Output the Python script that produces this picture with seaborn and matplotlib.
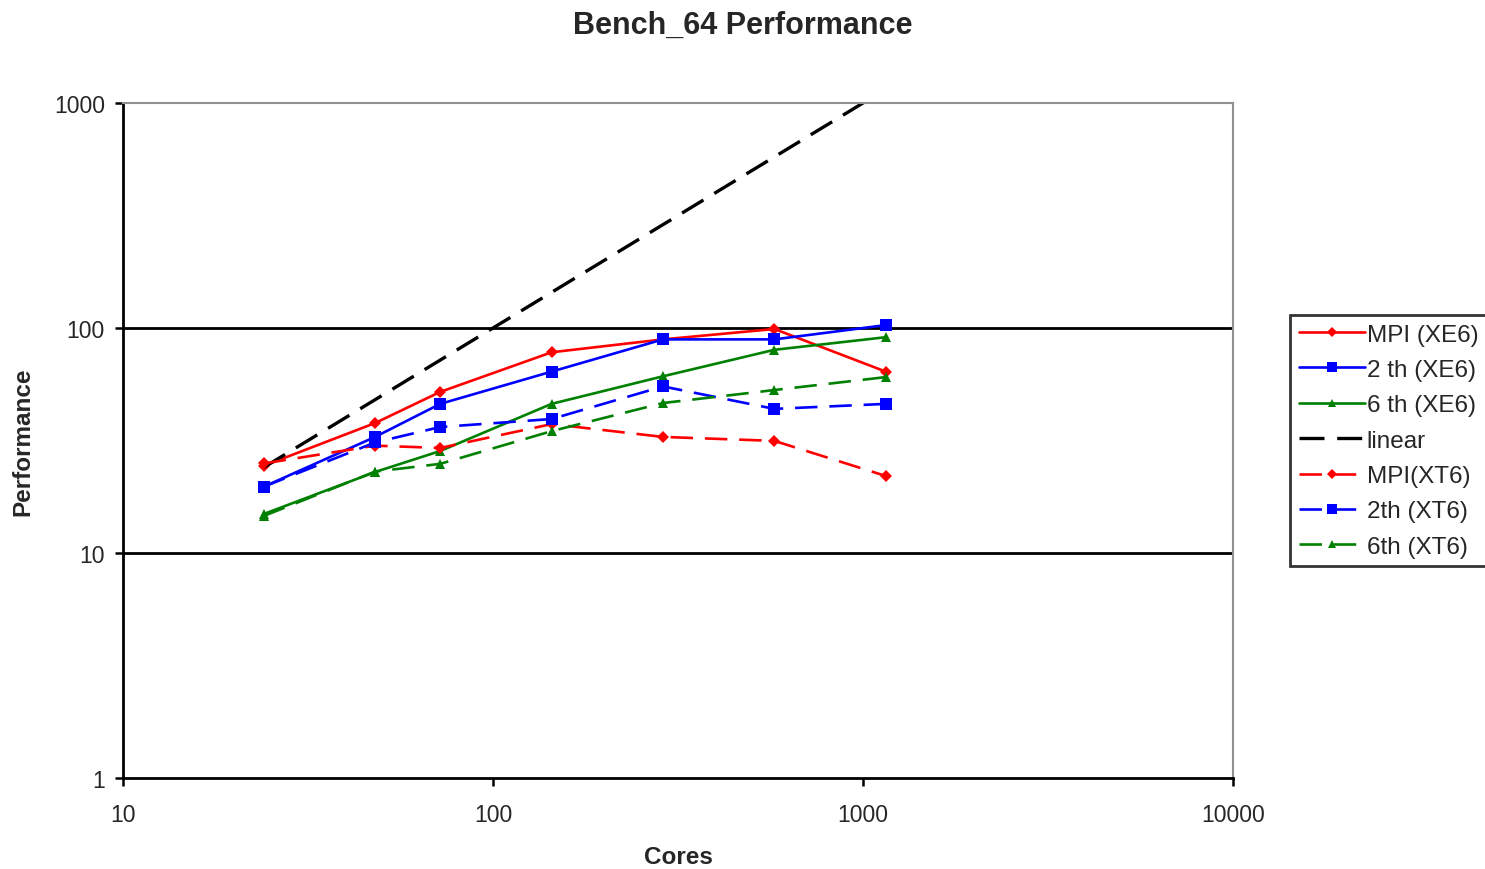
import numpy as np
import pandas as pd
import matplotlib
matplotlib.use("Agg")
import matplotlib.pyplot as plt
import seaborn as sns

cores = [24, 48, 72, 144, 288, 576, 1152]

mpi_xe6 = [24.4, 37.8, 52, 78, 89, 99, 64]
th2_xe6 = [19.7, 32.8, 46, 64, 89, 89, 103]
th6_xe6 = [14.9, 22.9, 28.4, 46, 61, 80, 91]
linear = [24, 48, 72, 144, 288, 576, 1152]
mpi_xt6 = [25, 30, 29.3, 37.4, 32.8, 31.5, 22]
th2_xt6 = [19.7, 31, 36.3, 39.4, 55, 43.7, 46]
th6_xt6 = [14.6, 23, 24.9, 34.8, 46.4, 53, 60.5]

labels = ["MPI (XE6)", "2 th (XE6)", "6 th (XE6)", "linear",
          "MPI(XT6)", "2th (XT6)", "6th (XT6)"]
series = [mpi_xe6, th2_xe6, th6_xe6, linear, mpi_xt6, th2_xt6, th6_xt6]
colors = ["#ff0000", "#0000ff", "#008000", "#000000", "#ff0000", "#0000ff", "#008000"]
markers = ["D", "s", "^", None, "D", "s", "^"]
msizes = [6, 9, 7.5, 0, 6, 9, 7.5]
dashed = [False, False, False, True, True, True, True]

sns.set_style("white")
plt.rcParams['font.family'] = ['Liberation Sans', 'DejaVu Sans']

fig = plt.figure(figsize=(14.85, 8.7), dpi=100)
ax = fig.add_axes([123 / 1485, 1 - 779 / 870, (1233 - 123) / 1485, (779 - 104) / 870])

for vals, lab, col, mk, ms, dsh in zip(series, labels, colors, markers, msizes, dashed):
    df = pd.DataFrame({"Cores": cores, "Performance": vals})
    lw = 2.4 if lab == "linear" else 1.9
    if lab == "linear":
        ls = (0, (7.5, 3.8))
    elif dsh:
        ls = (0, (8.5, 4.5))
    else:
        ls = "-"
    sns.lineplot(data=df, x="Cores", y="Performance", ax=ax, color=col,
                 marker=mk, markersize=ms, markeredgewidth=0, linewidth=lw,
                 linestyle=ls, label=lab)

ax.set_xscale("log")
ax.set_yscale("log")
ax.set_xlim(10, 10000)
ax.set_ylim(1, 1000)
ax.set_xticks([10, 100, 1000, 10000])
ax.set_xticklabels(["10", "100", "1000", "10000"])
ax.set_yticks([1, 10, 100, 1000])
ax.set_yticklabels(["1", "10", "100", "1000"])
ax.minorticks_off()
ax.tick_params(axis="both", which="major", direction="out", length=6, width=1.8,
               labelsize=16.5, left=True, bottom=True, color="black")
ax.tick_params(axis="y", pad=7)
ax.tick_params(axis="x", pad=12)

for y in [10, 100]:
    ax.axhline(y, color="black", linewidth=2, zorder=0)

ax.spines["left"].set_color("black")
ax.spines["bottom"].set_color("black")
ax.spines["left"].set_linewidth(2)
ax.spines["bottom"].set_linewidth(2)
ax.spines["top"].set_color("#909090")
ax.spines["right"].set_color("#909090")
ax.spines["top"].set_linewidth(1.5)
ax.spines["right"].set_linewidth(1.5)

ax.set_xlabel("Cores", fontsize=17.5, fontweight="bold", labelpad=14)
ax.set_ylabel("Performance", fontsize=17.5, fontweight="bold")
ax.yaxis.set_label_coords((34 - 123) / 1110, 0.5)
fig.suptitle("Bench_64 Performance", fontsize=22, fontweight="bold", y=0.988)

leg = ax.legend(loc="upper left", bbox_to_anchor=(1290 / 1485, 1 - 316 / 870),
                bbox_transform=fig.transFigure, borderaxespad=0, fontsize=17.5,
                handlelength=2.75, handletextpad=0.05, labelspacing=0.55,
                fancybox=False, frameon=True, borderpad=0.35, markerscale=0.85)
leg.get_frame().set_edgecolor("black")
leg.get_frame().set_linewidth(2)

fig.savefig("out.png", dpi=100)
